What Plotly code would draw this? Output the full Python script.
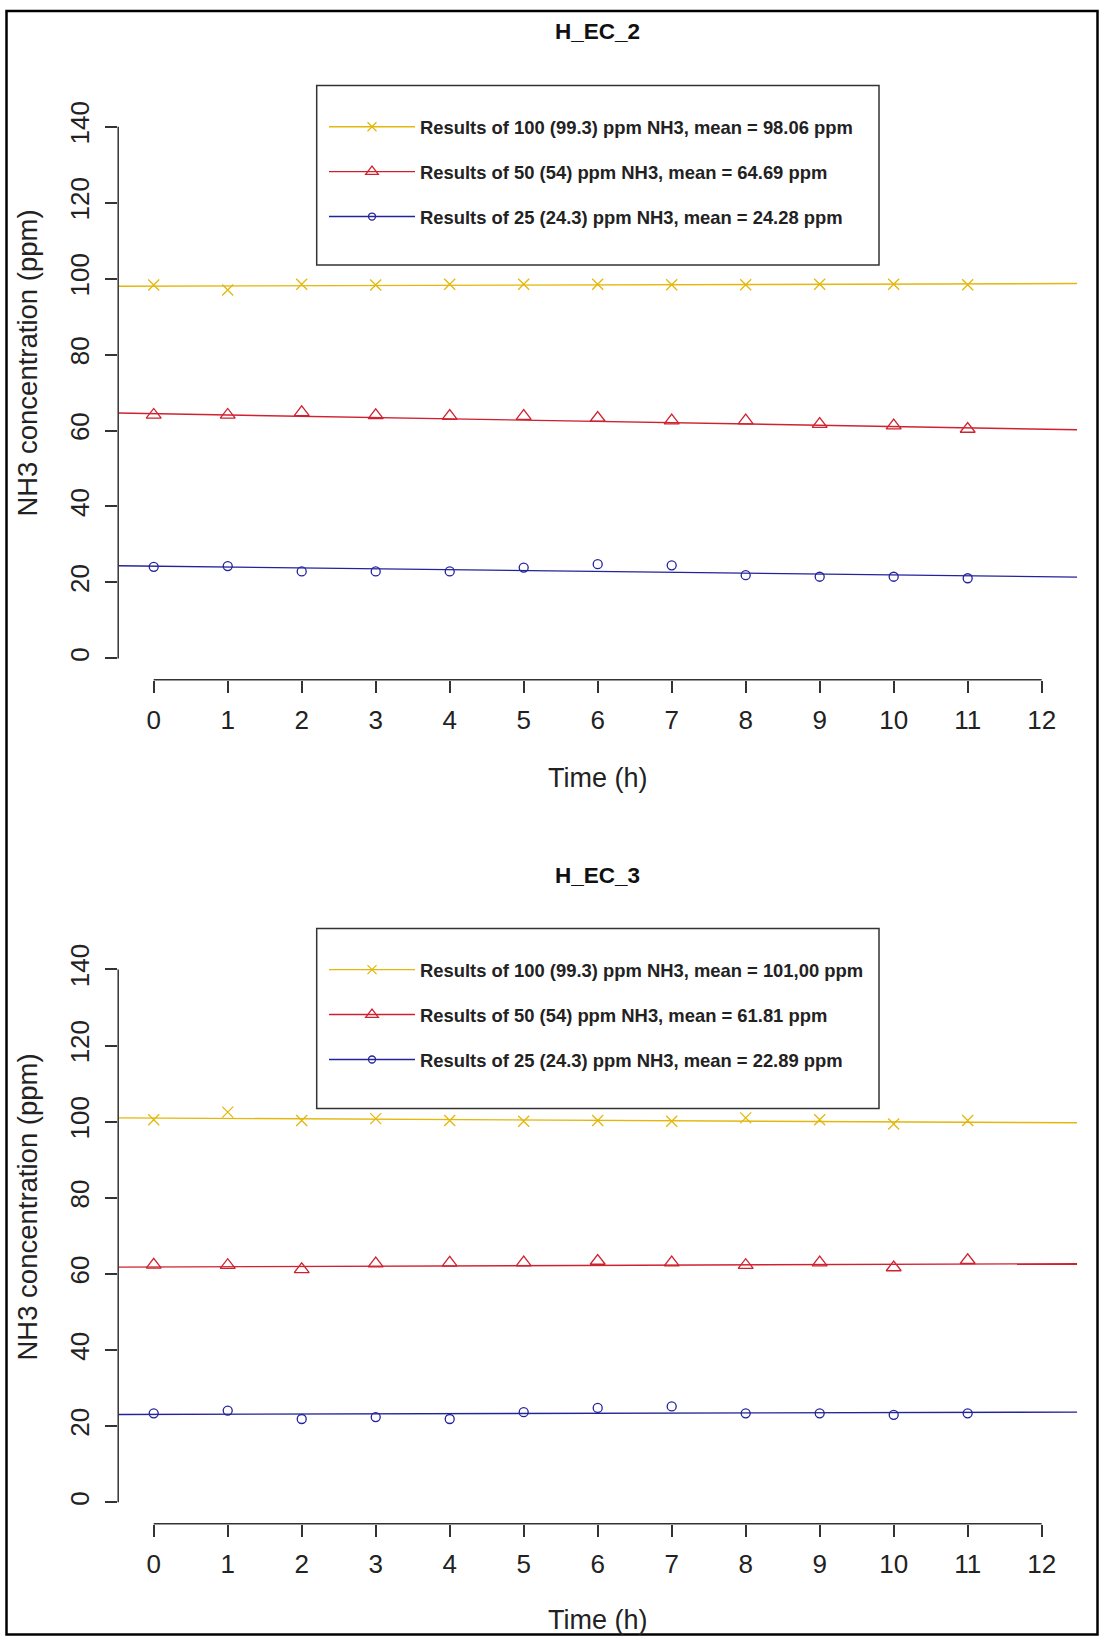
import plotly.graph_objects as go

W, H = 1101, 1640

# ---------------- data ----------------
hours = [0, 1, 2, 3, 4, 5, 6, 7, 8, 9, 10, 11]
x_ticks = [0, 1, 2, 3, 4, 5, 6, 7, 8, 9, 10, 11, 12]
y_ticks = [0, 20, 40, 60, 80, 100, 120, 140]
trend_x = [-0.48, 12.48]

# H_EC_2
ec2_100 = [98.3, 97.0, 98.5, 98.3, 98.5, 98.5, 98.5, 98.4, 98.4, 98.5, 98.5, 98.4]
ec2_50 = [64.1, 64.1, 64.8, 64.0, 63.8, 63.8, 63.3, 62.6, 62.6, 61.7, 61.3, 60.4]
ec2_25 = [24.1, 24.3, 22.9, 22.9, 22.9, 23.9, 24.8, 24.5, 21.9, 21.5, 21.5, 21.1]
ec2_trend_100 = [98.0, 98.7]
ec2_trend_50 = [64.6, 60.2]
ec2_trend_25 = [24.4, 21.4]
ec2_names = ["Results of 100 (99.3) ppm NH3, mean = 98.06 ppm",
             "Results of 50 (54) ppm NH3, mean = 64.69 ppm",
             "Results of 25 (24.3) ppm NH3, mean = 24.28 ppm"]

# H_EC_3
ec3_100 = [100.5, 102.5, 100.3, 100.8, 100.3, 100.1, 100.3, 100.1, 101.0, 100.5, 99.4, 100.3]
ec3_50 = [62.4, 62.3, 61.2, 62.7, 62.9, 63.0, 63.4, 63.0, 62.3, 63.0, 61.7, 63.6]
ec3_25 = [23.4, 24.1, 21.9, 22.4, 21.9, 23.7, 24.8, 25.2, 23.4, 23.4, 23.0, 23.4]
ec3_trend_100 = [101.0, 99.7]
ec3_trend_50 = [61.8, 62.7]
ec3_trend_25 = [23.1, 23.7]
ec3_names = ["Results of 100 (99.3) ppm NH3, mean = 101,00 ppm",
             "Results of 50 (54) ppm NH3, mean = 61.81 ppm",
             "Results of 25 (24.3) ppm NH3, mean = 22.89 ppm"]

titles = ["H_EC_2", "H_EC_3"]
x_title = "Time (h)"
y_title = "NH3 concentration (ppm)"

# ---------------- styles ----------------
C_YEL = "#E3B70C"
C_RED = "#CF2230"
C_BLU = "#23239A"
FONT = "Liberation Sans, Arial, sans-serif"
AX = "#333333"

styles = [
    dict(color=C_YEL, symbol="x-thin-open", size=11, lsize=9),
    dict(color=C_RED, symbol="triangle-up-open", size=13, lsize=11),
    dict(color=C_BLU, symbol="circle-open", size=9, lsize=7),
]

def px_x(p):
    return p / W

def px_y(p):
    return 1 - p / H

x_dom = [px_x(118.2), px_x(1077.2)]
panels = [
    dict(ydom=[px_y(677.3), px_y(101.7)], series=[ec2_100, ec2_50, ec2_25],
         trends=[ec2_trend_100, ec2_trend_50, ec2_trend_25], names=ec2_names,
         title_y=27.5, xt_y=776, yt_y=360.5, legend="legend",
         box=(316.7, 81.7, 879, 261.7)),
    dict(ydom=[px_y(1523.4), px_y(946.4)], series=[ec3_100, ec3_50, ec3_25],
         trends=[ec3_trend_100, ec3_trend_50, ec3_trend_25], names=ec3_names,
         title_y=873.5, xt_y=1620, yt_y=1206.5, legend="legend2",
         box=(316.7, 926.7, 879, 1107.3)),
]

fig = go.Figure()
shapes = []
annotations = []

for i, p in enumerate(panels):
    xa = "x" if i == 0 else "x2"
    ya = "y" if i == 0 else "y2"
    for j, (ys, tr, nm) in enumerate(zip(p["series"], p["trends"], p["names"])):
        st = styles[j]
        # points
        fig.add_trace(go.Scatter(
            x=hours, y=ys, mode="markers", xaxis=xa, yaxis=ya, showlegend=False,
            marker=dict(symbol=st["symbol"], size=st["size"], color=st["color"],
                        line=dict(width=1.3, color=st["color"])),
            hoverinfo="x+y"))
        # trend line
        fig.add_trace(go.Scatter(
            x=trend_x, y=tr, mode="lines", xaxis=xa, yaxis=ya, showlegend=False,
            line=dict(color=st["color"], width=1.4), hoverinfo="skip"))
        # legend entry
        fig.add_trace(go.Scatter(
            x=[None], y=[None], mode="lines+markers", xaxis=xa, yaxis=ya,
            name=nm, legend=p["legend"], legendgroup=f"{i}-{j}",
            marker=dict(symbol=st["symbol"], size=st["lsize"], color=st["color"],
                        line=dict(width=1.3, color=st["color"])),
            line=dict(color=st["color"], width=1.4)))

    # axis lines (R style: only spanning ticks)
    shapes.append(dict(type="line", xref=xa, yref=f"{ya} domain", x0=0, x1=12, y0=0, y1=0,
                       line=dict(color=AX, width=1.5)))
    shapes.append(dict(type="line", xref=f"{xa} domain", yref=ya, x0=0, x1=0, y0=0, y1=140,
                       line=dict(color=AX, width=1.5)))
    # legend box
    bx0, by0, bx1, by1 = p["box"]
    shapes.append(dict(type="rect", xref="paper", yref="paper",
                       x0=px_x(bx0), x1=px_x(bx1), y0=px_y(by1), y1=px_y(by0),
                       line=dict(color=AX, width=1.5), fillcolor="rgba(0,0,0,0)"))
    # titles
    annotations.append(dict(text=f"<b>{titles[i]}</b>", xref="paper", yref="paper",
                            x=(x_dom[0] + x_dom[1]) / 2, y=px_y(p["title_y"]),
                            xanchor="center", yanchor="middle", showarrow=False,
                            font=dict(family=FONT, size=22.5, color="#111")))
    annotations.append(dict(text=x_title, xref="paper", yref="paper",
                            x=(x_dom[0] + x_dom[1]) / 2, y=px_y(p["xt_y"]),
                            xanchor="center", yanchor="middle", showarrow=False,
                            font=dict(family=FONT, size=27, color="#222")))
    annotations.append(dict(text=y_title, xref="paper", yref="paper", textangle=-90,
                            x=px_x(28), y=px_y(p["yt_y"]),
                            xanchor="center", yanchor="middle", showarrow=False,
                            font=dict(family=FONT, size=27.5, color="#222")))

# outer frame
shapes.append(dict(type="rect", xref="paper", yref="paper",
                   x0=px_x(6.5), x1=px_x(1097.5), y0=px_y(1634.5), y1=px_y(7),
                   line=dict(color="#000", width=2.5), fillcolor="rgba(0,0,0,0)"))

axis_common_x = dict(range=trend_x, tickmode="array", tickvals=x_ticks,
                     ticks="outside", ticklen=12, tickwidth=1.5, tickcolor=AX,
                     showline=False, showgrid=False, zeroline=False,
                     ticklabelstandoff=5,
                     tickfont=dict(family=FONT, size=26, color="#222"))
axis_common_y = dict(range=[-5.6, 145.6], tickmode="array", tickvals=y_ticks,
                     ticks="outside", ticklen=12, tickwidth=1.5, tickcolor=AX,
                     showline=False, showgrid=False, zeroline=False,
                     tickangle=-90, ticklabelstandoff=6,
                     tickfont=dict(family=FONT, size=26, color="#222"))

legend_common = dict(xanchor="left", yanchor="top", bgcolor="rgba(0,0,0,0)",
                     borderwidth=0, itemwidth=86, tracegroupgap=18,
                     font=dict(family=FONT, size=18.4, color="#222", weight="bold"),
                     itemclick=False, itemdoubleclick=False)

fig.update_layout(
    width=W, height=H, autosize=False,
    margin=dict(l=0, r=0, t=0, b=0),
    paper_bgcolor="white", plot_bgcolor="white",
    showlegend=True,
    xaxis=dict(domain=x_dom, anchor="y", **axis_common_x),
    yaxis=dict(domain=panels[0]["ydom"], anchor="x", **axis_common_y),
    xaxis2=dict(domain=x_dom, anchor="y2", **axis_common_x),
    yaxis2=dict(domain=panels[1]["ydom"], anchor="x2", **axis_common_y),
    legend=dict(x=px_x(324), y=px_y(104.5), **legend_common),
    legend2=dict(x=px_x(324), y=px_y(949.5), **legend_common),
    shapes=shapes, annotations=annotations,
)

fig.write_html("out.html",
               config={"displayModeBar": False},
               post_script="document.body.style.margin='0';document.body.style.overflow='hidden';")
